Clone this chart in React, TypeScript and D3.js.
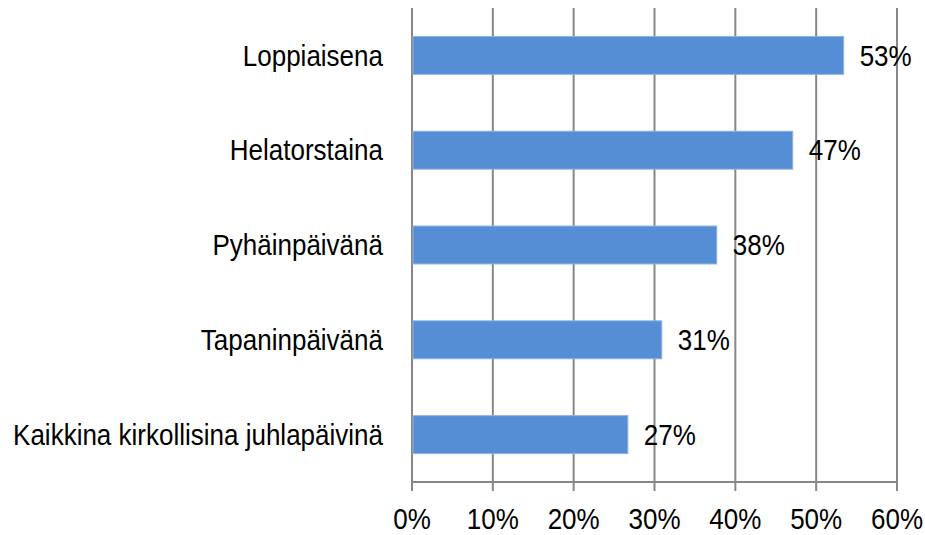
import React, { useEffect, useRef } from 'react';
import * as d3 from 'd3';

const categories = [
  'Loppiaisena',
  'Helatorstaina',
  'Pyhäinpäivänä',
  'Tapaninpäivänä',
  'Kaikkina kirkollisina juhlapäivinä',
];
const values = [53.4, 47.1, 37.7, 30.9, 26.7];
const ticks = [0, 10, 20, 30, 40, 50, 60];

const App = () => {
  const svgRef = useRef<SVGSVGElement>(null);

  useEffect(() => {
    const width = 925;
    const height = 535;
    const left = 412;
    const right = 897;
    const top = 8;
    const bottom = 482;
    const font = 'Liberation Sans, Arial, sans-serif';
    const fontSize = 26;
    const stretch = 1.1;

    const svg = d3.select(svgRef.current);
    svg.selectAll('*').remove();
    svg.attr('width', width).attr('height', height);

    const x = d3.scaleLinear().domain([0, 60]).range([left, right]);
    const y = d3.scaleBand().domain(categories).range([top, bottom]).paddingInner(0.6).paddingOuter(0.3);

    // gridlines + ticks
    svg.append('g')
      .selectAll('line')
      .data(ticks)
      .enter()
      .append('line')
      .attr('x1', (d) => x(d))
      .attr('x2', (d) => x(d))
      .attr('y1', top)
      .attr('y2', bottom + 9)
      .attr('stroke', '#878787')
      .attr('stroke-width', 2);

    svg.append('line')
      .attr('x1', left)
      .attr('x2', right)
      .attr('y1', bottom)
      .attr('y2', bottom)
      .attr('stroke', '#878787')
      .attr('stroke-width', 2);

    const data = categories.map((c, i) => ({ c, v: values[i] }));

    svg.append('g')
      .selectAll('rect')
      .data(data)
      .enter()
      .append('rect')
      .attr('x', x(0) + 1)
      .attr('y', (d) => y(d.c)!)
      .attr('width', (d) => x(d.v) - x(0) - 1)
      .attr('height', y.bandwidth())
      .attr('fill', '#558ed5')
      .attr('stroke', '#8db3e2')
      .attr('stroke-width', 1);

    const addText = (g: any, tx: (d: any) => number, ty: (d: any) => number) =>
      g.attr('transform', (d: any) => `translate(${tx(d)},${ty(d)}) scale(1,${stretch})`)
        .attr('font-family', font)
        .attr('font-size', fontSize)
        .attr('fill', '#000');

    const capOff = (fontSize * 0.716 * stretch) / 2;

    addText(
      svg.append('g').selectAll('text').data(data).enter().append('text')
        .attr('text-anchor', 'end')
        .text((d) => d.c),
      () => left - 29,
      (d) => y(d.c)! + y.bandwidth() / 2 + capOff
    );

    addText(
      svg.append('g').selectAll('text').data(data).enter().append('text')
        .attr('text-anchor', 'start')
        .text((d) => `${Math.round(d.v)}%`),
      (d) => x(d.v) + 16,
      (d) => y(d.c)! + y.bandwidth() / 2 + capOff
    );

    addText(
      svg.append('g').selectAll('text').data(ticks).enter().append('text')
        .attr('text-anchor', 'middle')
        .text((d) => `${d}%`),
      (d) => x(d),
      () => 529
    );
  }, []);

  return (
    <div style={{ position: 'absolute', left: 0, top: 0 }}>
      <svg ref={svgRef} style={{ display: 'block' }}></svg>
    </div>
  );
};

export default App;
